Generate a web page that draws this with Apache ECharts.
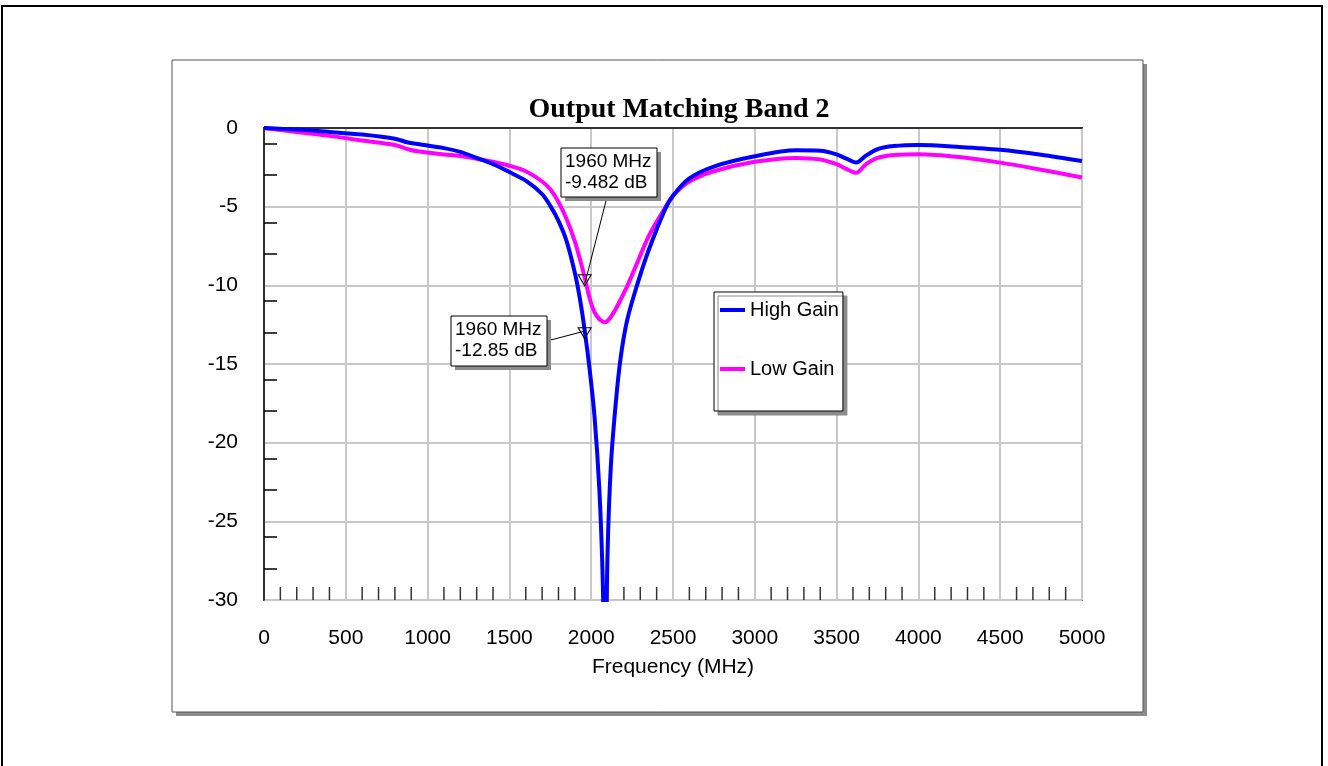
<!DOCTYPE html>
<html>
<head>
<meta charset="utf-8">
<script src="https://cdn.jsdelivr.net/npm/echarts@6/dist/echarts.min.js"></script>
<style>
  html, body { margin: 0; padding: 0; background: #fff; }
  #chart { width: 1328px; height: 766px; }
</style>
</head>
<body>
<div id="chart"></div>
<script>
// frequency samples (MHz) shared by both traces
const freqMHz = [0, 200, 400, 600, 800, 880, 950, 1100, 1200, 1300, 1400, 1500, 1600, 1700, 1750, 1800,
  1850, 1900, 1930, 1960, 1990, 2020, 2050, 2070, 2085, 2100, 2120, 2150, 2180, 2220, 2280, 2350,
  2450, 2500, 2600, 2750, 3000, 3250, 3400, 3500, 3560, 3620, 3680, 3750, 3850, 4000, 4250, 4500,
  4750, 5000]

const highGainDb = [0, -0.1, -0.25, -0.42, -0.68, -0.92, -1.03, -1.28, -1.52, -1.9, -2.3, -2.8, -3.35, -4.2, -4.95, -5.9,
  -7.2, -9.2, -10.8, -12.85, -15.3, -18.3, -23, -28.5, -36, -27, -21.5, -17.5, -14.6, -12.2, -10.0, -7.8,
  -5.2, -4.3, -3.2, -2.45, -1.8, -1.42, -1.45, -1.68, -1.95, -2.2, -1.75, -1.35, -1.15, -1.08, -1.2, -1.38,
  -1.7, -2.1]

const lowGainDb = [0, -0.25, -0.5, -0.8, -1.08, -1.35, -1.5, -1.68, -1.78, -1.95, -2.15, -2.4, -2.75, -3.4, -3.9, -4.7,
  -5.8, -7.2, -8.3, -9.482, -10.8, -11.7, -12.15, -12.3, -12.35, -12.25, -12.0, -11.5, -10.9, -10.05, -8.6, -6.9,
  -5.1, -4.3, -3.4, -2.75, -2.15, -1.9, -2.0, -2.3, -2.6, -2.85, -2.3, -1.9, -1.72, -1.67, -1.85, -2.2,
  -2.65, -3.15]

// short ticks on both axes
const xMinorTicks = []
for (let f = 100; f < 5000; f += 100) {
  if (f % 500 !== 0)
    xMinorTicks.push(f)
}
const yMinorTicks = [-1, -3, -6, -8, -11, -13, -16, -18, -21, -23, -26, -28]

const markerFreq = 1960
const highGainMarkerDb = -12.85
const lowGainMarkerDb = -9.482

const FONT = '"Liberation Sans", Arial, sans-serif'

function pairs(values) {
  return freqMHz.map((f, i) => [f, values[i]])
}

function marker(value) {
  return {
    symbol: 'triangle',
    symbolRotate: 180,
    symbolSize: [13, 11],
    symbolOffset: [0, 3],
    silent: true,
    label: { show: false },
    itemStyle: { color: 'rgba(0,0,0,0)', borderColor: '#000', borderWidth: 1 },
    data: [{ coord: [markerFreq, value] }],
  }
}

function noteBox(x, y, w, h, lines) {
  return [
    { type: 'rect', shape: { x: x + 4, y: y + 4, width: w, height: h }, style: { fill: '#8c8c8c' }, z: 10 },
    { type: 'rect', shape: { x, y, width: w, height: h }, style: { fill: '#fff', stroke: '#000', lineWidth: 1 }, z: 11 },
    {
      type: 'text', x: x + 4, y: y + 3, z: 12,
      style: { text: lines.join('\n'), fill: '#000', font: '19px ' + FONT, lineHeight: 21.5 },
    },
  ]
}

const plainNumber = v => String(v)
const gridLine = { show: true, lineStyle: { color: '#c8c8c8', width: 2 } }
const tickLine = { color: '#000', width: 1.5 }

const chart = echarts.init(document.getElementById('chart'), null, { renderer: 'canvas' })

chart.setOption({
  animation: false,
  backgroundColor: '#fff',
  title: {
    text: 'Output Matching Band 2',
    left: 674,
    top: 91,
    textAlign: 'center',
    textStyle: { fontFamily: '"Liberation Serif", "Times New Roman", serif', fontWeight: 'bold', fontSize: 28, color: '#000' },
  },
  legend: {
    data: ['High Gain', 'Low Gain'],
    orient: 'vertical',
    left: 714,
    top: 292,
    icon: 'rect',
    itemWidth: 25,
    itemHeight: 4,
    itemGap: 39,
    padding: [8, 4, 32, 6],
    backgroundColor: '#fff',
    borderColor: '#000',
    borderWidth: 1,
    shadowColor: '#8c8c8c',
    shadowOffsetX: 4,
    shadowOffsetY: 4,
    shadowBlur: 0,
    textStyle: { fontFamily: FONT, fontSize: 20, color: '#000', lineHeight: 20 },
  },
  grid: {
    left: 264, right: 246, top: 128, bottom: 166,
    show: true, borderColor: '#000', borderWidth: 1.5, backgroundColor: '#fff',
  },
  xAxis: {
    type: 'value',
    min: 0, max: 5000, interval: 500,
    name: 'Frequency (MHz)',
    nameLocation: 'middle',
    nameGap: 57,
    nameTextStyle: { fontFamily: FONT, fontSize: 21, color: '#000' },
    axisLine: { lineStyle: tickLine },
    axisTick: { show: false },
    axisLabel: { fontFamily: FONT, fontSize: 21, color: '#000', margin: 28, formatter: plainNumber },
    splitLine: gridLine,
  },
  yAxis: [
    {
      type: 'value',
      min: -30, max: 0, interval: 5,
      position: 'left',
      axisLine: { show: true, lineStyle: tickLine },
      axisTick: { show: true, inside: true, length: 13, customValues: yMinorTicks, lineStyle: tickLine },
      axisLabel: { fontFamily: FONT, fontSize: 21, color: '#000', margin: 26, formatter: plainNumber },
      splitLine: { show: false },
    },
    {
      // carries only the horizontal grid lines
      type: 'value',
      min: -30, max: 0, interval: 5,
      position: 'right',
      axisLine: { show: false },
      axisTick: { show: false },
      axisLabel: { show: false },
      splitLine: gridLine,
    },
  ],
  graphic: [
    { type: 'rect', shape: { x: 2, y: 6, width: 1320, height: 800 }, style: { fill: 'none', stroke: '#000', lineWidth: 2 }, z: -10, silent: true },
    { type: 'rect', shape: { x: 176, y: 64, width: 971, height: 652 }, style: { fill: '#8c8c8c' }, z: -9, silent: true },
    { type: 'rect', shape: { x: 172, y: 60, width: 971, height: 652 }, style: { fill: '#fff', stroke: '#555', lineWidth: 1 }, z: -8, silent: true },
    ...noteBox(561, 148, 96, 49, ['1960 MHz', '-9.482 dB']),
    { type: 'line', shape: { x1: 607, y1: 197, x2: 585, y2: 283 }, style: { stroke: '#000', lineWidth: 1 }, z: 9 },
    ...noteBox(451, 316, 96, 50, ['1960 MHz', '-12.85 dB']),
    { type: 'line', shape: { x1: 547, y1: 341, x2: 585, y2: 331 }, style: { stroke: '#000', lineWidth: 1 }, z: 9 },
  ],
  series: [
    {
      // small upward ticks along the frequency axis
      name: 'xTicks',
      type: 'scatter',
      data: xMinorTicks.map(f => [f, -30]),
      symbol: 'rect',
      symbolSize: [1.5, 13],
      symbolOffset: [0, -6.5],
      itemStyle: { color: '#000' },
      silent: true,
      clip: false,
      z: 1,
    },
    {
      name: 'High Gain',
      type: 'line',
      data: pairs(highGainDb),
      smooth: 0.3,
      symbol: 'none',
      z: 3,
      lineStyle: { color: '#0000ff', width: 4 },
      itemStyle: { color: '#0000ff' },
      markPoint: marker(highGainMarkerDb),
    },
    {
      name: 'Low Gain',
      type: 'line',
      data: pairs(lowGainDb),
      smooth: 0.3,
      symbol: 'none',
      z: 2,
      lineStyle: { color: '#ff00ff', width: 4 },
      itemStyle: { color: '#ff00ff' },
      markPoint: marker(lowGainMarkerDb),
    },
  ],
})
</script>
</body>
</html>
